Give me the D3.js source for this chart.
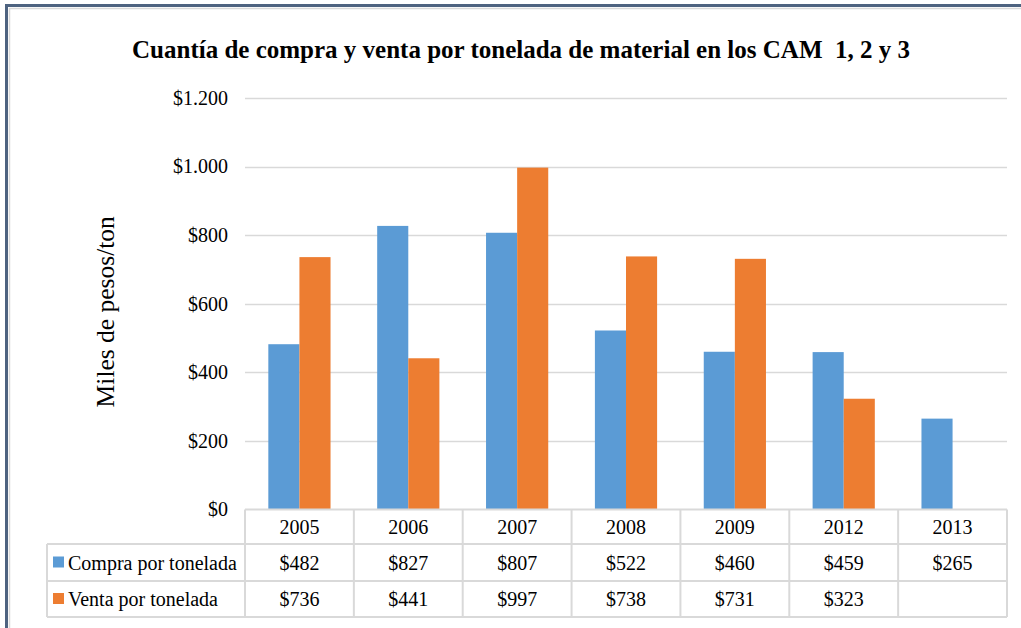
<!DOCTYPE html>
<html>
<head>
<meta charset="utf-8">
<script src="https://cdn.jsdelivr.net/npm/d3@7"></script>
<style>
  body { margin: 0; background: #fff; }
  text { font-family: "Liberation Serif", "Times New Roman", serif; fill: #000; }
</style>
</head>
<body>
<div id="chart"></div>
<script>
const years = ["2005", "2006", "2007", "2008", "2009", "2012", "2013"];
const compra = [482, 827, 807, 522, 460, 459, 265];
const venta = [736, 441, 997, 738, 731, 323, null];
const seriesNames = ["Compra por tonelada", "Venta por tonelada"];
const colors = ["#5B9BD5", "#ED7D31"];
const yTicks = [0, 200, 400, 600, 800, 1000, 1200];

const W = 1021, H = 628;
const plot = { left: 245, right: 1007, top: 98, bottom: 509.5 };

const locale = d3.formatLocale({ decimal: ",", thousands: ".", grouping: [3], currency: ["$", ""] });
const fmt = locale.format("$,.0f");

const svg = d3.select("#chart").append("svg")
  .attr("width", W).attr("height", H);

// chart frame
svg.append("rect").attr("x", 9.5).attr("y", 8.5).attr("width", W).attr("height", H)
  .attr("fill", "none").attr("stroke", "#d9d9d9").attr("stroke-width", 1.5);
svg.append("rect").attr("x", 6.5).attr("y", 5.5).attr("width", W).attr("height", H)
  .attr("fill", "none").attr("stroke", "#4e6380").attr("stroke-width", 3);

svg.append("text")
  .attr("x", 521).attr("y", 58)
  .attr("text-anchor", "middle")
  .style("font-weight", "bold").style("font-size", "25px").style("white-space", "pre")
  .text("Cuantía de compra y venta por tonelada de material en los CAM  1, 2 y 3");

const x = d3.scaleBand().domain(years).range([plot.left, plot.right]);
const y = d3.scaleLinear().domain([0, 1200]).range([plot.bottom, plot.top]);
const barW = x.bandwidth() / 3.5;

// gridlines
svg.append("g").selectAll("line").data(yTicks.filter(d => d > 0)).join("line")
  .attr("x1", plot.left).attr("x2", plot.right)
  .attr("y1", d => Math.round(y(d)) + 0.5).attr("y2", d => Math.round(y(d)) + 0.5)
  .attr("stroke", "#d9d9d9").attr("stroke-width", 1.5);

// y axis labels
const yAxis = svg.append("g")
  .attr("transform", `translate(${plot.left - 17},0)`)
  .call(d3.axisLeft(y).tickValues(yTicks).tickFormat(fmt).tickSize(0).tickPadding(0));
yAxis.select(".domain").remove();
yAxis.selectAll("text").style("font-family", "Liberation Serif").style("font-size", "20px").attr("fill", "#000");

svg.append("text")
  .attr("transform", `translate(114,${(plot.top + plot.bottom) / 2 + 8}) rotate(-90)`)
  .attr("text-anchor", "middle")
  .style("font-size", "25.5px")
  .text("Miles de pesos/ton");

// bars
const series = [compra, venta];
series.forEach((vals, s) => {
  svg.append("g").selectAll("rect")
    .data(years.map((yr, i) => ({ yr, v: vals[i] })).filter(d => d.v != null))
    .join("rect")
    .attr("x", d => x(d.yr) + barW * 0.75 + s * barW)
    .attr("width", barW)
    .attr("y", d => y(d.v))
    .attr("height", d => y(0) - y(d.v))
    .attr("fill", colors[s]);
});

// data table
const rows = [plot.bottom, 544, 581, 617];
const tableLeft = 47;
const grid = svg.append("g").attr("stroke", "#d9d9d9").attr("stroke-width", 2);
grid.append("line").attr("x1", plot.left).attr("x2", plot.right).attr("y1", rows[0]).attr("y2", rows[0]);
rows.slice(1).forEach(r => grid.append("line").attr("x1", tableLeft).attr("x2", plot.right).attr("y1", r).attr("y2", r));
grid.append("line").attr("x1", tableLeft).attr("x2", tableLeft).attr("y1", rows[1]).attr("y2", rows[3]);
years.forEach(yr => grid.append("line").attr("x1", x(yr)).attr("x2", x(yr)).attr("y1", rows[0]).attr("y2", rows[3]));
grid.append("line").attr("x1", plot.right).attr("x2", plot.right).attr("y1", rows[0]).attr("y2", rows[3]);

svg.append("g").selectAll("text").data(years).join("text")
  .attr("x", d => x(d) + x.bandwidth() / 2).attr("y", (rows[0] + rows[1]) / 2 + 7)
  .attr("text-anchor", "middle").style("font-size", "20px").text(d => d);

series.forEach((vals, s) => {
  const cy = (rows[s + 1] + rows[s + 2]) / 2;
  svg.append("rect").attr("x", 53).attr("y", cy - 6).attr("width", 11).attr("height", 11).attr("fill", colors[s]);
  svg.append("text").attr("x", 68).attr("y", cy + 7).style("font-size", "20px").text(seriesNames[s]);
  svg.append("g").selectAll("text")
    .data(years.map((yr, i) => ({ yr, v: vals[i] })).filter(d => d.v != null))
    .join("text")
    .attr("x", d => x(d.yr) + x.bandwidth() / 2).attr("y", cy + 7)
    .attr("text-anchor", "middle").style("font-size", "20px")
    .text(d => fmt(d.v));
});
</script>
</body>
</html>
